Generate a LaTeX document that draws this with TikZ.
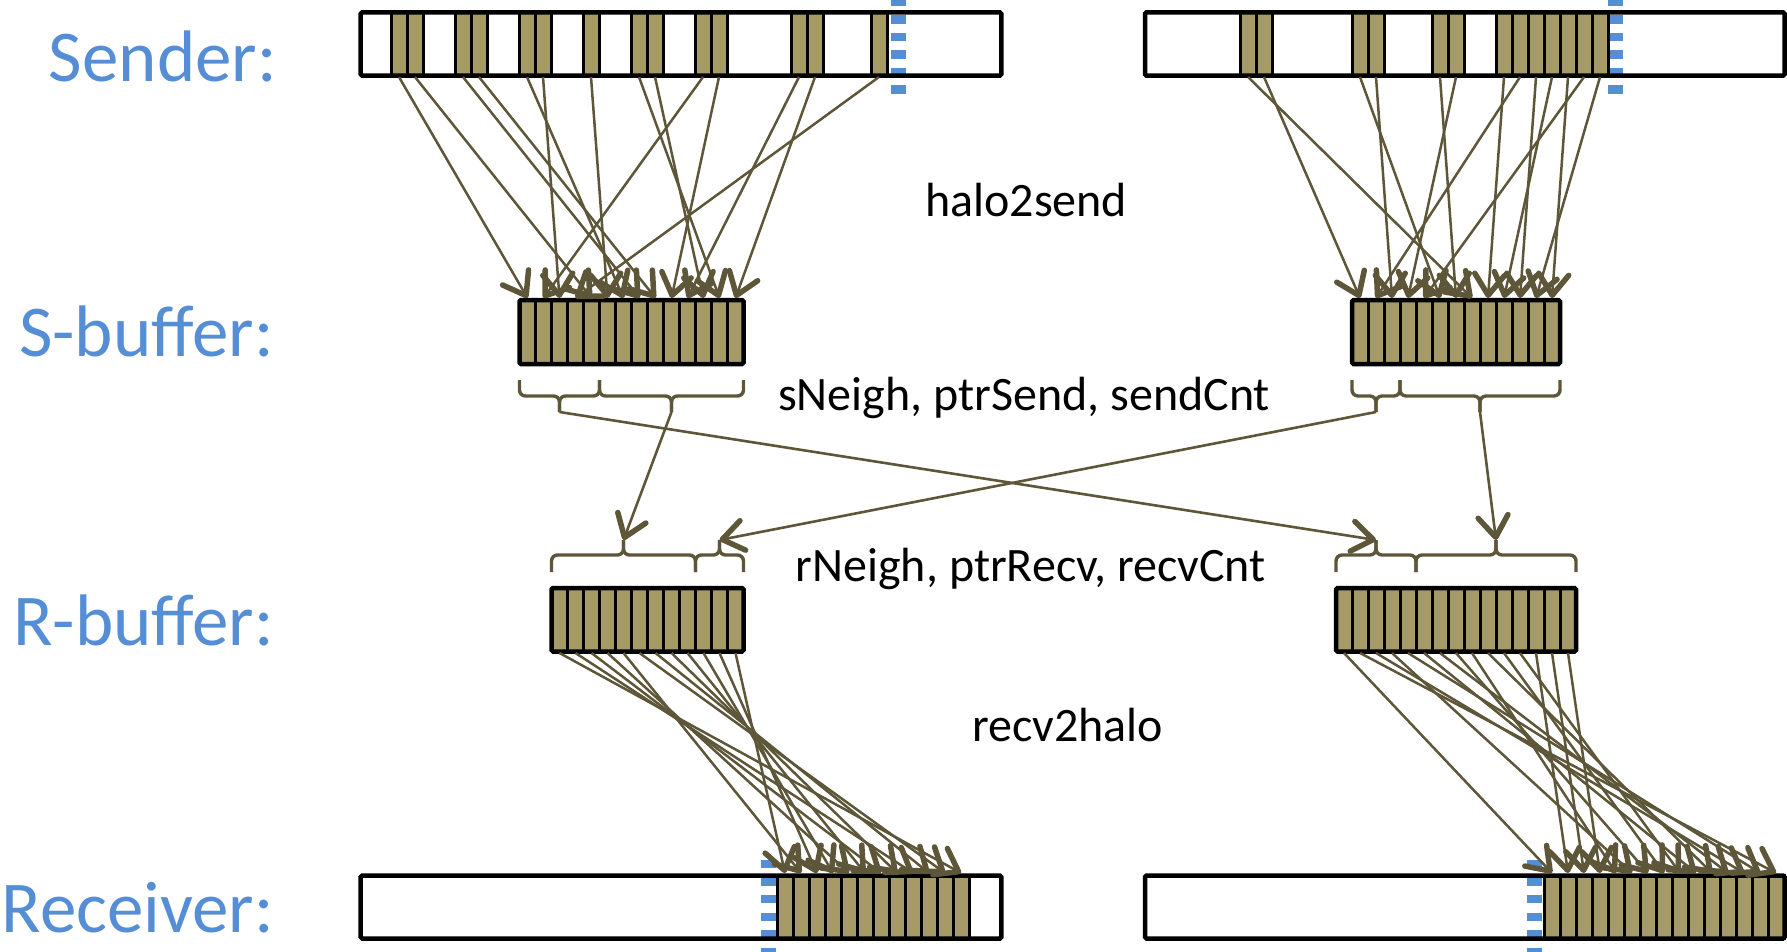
\documentclass[tikz,border=0pt]{standalone}
\usepackage{fontspec}
\setmainfont{Carlito}
\usetikzlibrary{arrows.meta}
\definecolor{slotfill}{RGB}{166,154,102}
\definecolor{arrowcol}{RGB}{94,86,56}
\definecolor{labelblue}{RGB}{85,142,213}
\tikzset{
  memfill/.style={fill=white},
  memframe/.style={draw=black, line width=4.5pt, rounded corners=1.5pt},
  bufbox/.style={draw=black, line width=4.5pt, fill=slotfill, rounded corners=1.5pt},
  slotbox/.style={draw=black, line width=3pt, fill=slotfill},
  slotline/.style={draw=black, line width=3pt},
  vtip/.tip={Straight Barb[length=21pt,width=30pt,line width=5.5pt,line cap=round,line join=round]},
  link/.style={draw=arrowcol, line width=2.5pt, -vtip},
  xlink/.style={draw=arrowcol, line width=2.6pt, -vtip},
  bracket/.style={draw=arrowcol, line width=3.4pt, rounded corners=6pt},
  bluedash/.style={draw=labelblue, line width=15pt, dash pattern=on 8.3pt off 9.2pt},
  rowlabel/.style={text=labelblue, font=\fontsize{73}{80}\selectfont, anchor=base east, inner sep=0pt},
  note/.style={text=black, font=\fontsize{48}{52}\selectfont, anchor=base west, inner sep=0pt},
}
\begin{document}
\begin{tikzpicture}[x=1pt,y=-1pt]
\useasboundingbox (0,0) rectangle (1787,952);

% ---------- row labels ----------
\node[rowlabel] (lblsender) at (277,82) {Sender:};
\node[rowlabel] (lblsbuf) at (274,356.5) {S-buffer:};
\node[rowlabel] (lblrbuf) at (274,645) {R-buffer:};
\node[rowlabel] (lblrecv) at (274,932) {Receiver:};

% ---------- notes ----------
\node[note] (nhalo) at (925,216.5) {halo2send};
\node[note] (nsend) at (778,410) {sNeigh, ptrSend, sendCnt};
\node[note] (nrecv) at (795.5,581) {rNeigh, ptrRecv, recvCnt};
\node[note] (nrecvh) at (972,741) {recv2halo};

% ---------- sender boxes ----------
\path[memfill] (360.7,12.3) rectangle (1001.3,75.7);
\path[memfill] (1145,12.3) rectangle (1784.5,75.7);
\draw[bluedash] (898,-2.2) -- (898,94);
\draw[bluedash] (1615.5,-2.2) -- (1615.5,94);
\foreach \k in {0,1,4,5,8,9,12,15,16,19,20,25,26,30} {
  \draw[slotbox] ({391+16*\k},12.3) rectangle ({407+16*\k},75.7);
  \coordinate (ls\k) at ({399+16*\k},77);
}
\foreach \k in {0,1,7,8,12,13,16,17,18,19,20,21,22} {
  \draw[slotbox] ({1240+16*\k},12.3) rectangle ({1256+16*\k},75.7);
  \coordinate (rs\k) at ({1248+16*\k},77);
}
\draw[memframe] (360.7,12.3) rectangle (1001.3,75.7);
\draw[memframe] (1145,12.3) rectangle (1784.5,75.7);

% ---------- receiver boxes ----------
\path[memfill] (360.7,875.5) rectangle (1001.3,938.5);
\path[memfill] (1145,875.5) rectangle (1784.5,938.5);
\draw[bluedash] (768,860) -- (768,958);
\draw[bluedash] (1534.5,860) -- (1534.5,958);
\draw[slotbox] (777,875.5) rectangle (969,938.5);
\foreach \m in {1,...,11} \draw[slotline] ({777+16*\m},875.5) -- ({777+16*\m},938.5);
\draw[slotbox] (1544,875.5) rectangle (1784,938.5);
\foreach \m in {1,...,14} \draw[slotline] ({1544+16*\m},875.5) -- ({1544+16*\m},938.5);
\draw[memframe] (360.7,875.5) rectangle (1001.3,938.5);
\draw[memframe] (1145,875.5) rectangle (1784.5,938.5);
\foreach \m in {0,...,11} \coordinate (vl\m) at ({785+16*\m},873);
\foreach \m in {0,...,14} \coordinate (vr\m) at ({1552+16*\m},873);

% ---------- S-buffers ----------
\draw[bufbox] (519.5,300) rectangle (743.5,364);
\foreach \j in {1,...,13} \draw[slotline] ({519.5+16*\j},300) -- ({519.5+16*\j},364);
\foreach \j in {0,...,13} \coordinate (sl\j) at ({527.5+16*\j},298);
\draw[bufbox] (1352,300) rectangle (1560,364);
\foreach \j in {1,...,12} \draw[slotline] ({1352+16*\j},300) -- ({1352+16*\j},364);
\foreach \j in {0,...,12} \coordinate (sr\j) at ({1360+16*\j},298);

% ---------- R-buffers ----------
\draw[bufbox] (551.5,588) rectangle (743.5,651.5);
\foreach \i in {1,...,11} \draw[slotline] ({551.5+16*\i},588) -- ({551.5+16*\i},651.5);
\foreach \i in {0,...,11} \coordinate (rl\i) at ({559.5+16*\i},653);
\draw[bufbox] (1336,588) rectangle (1576,651.5);
\foreach \i in {1,...,14} \draw[slotline] ({1336+16*\i},588) -- ({1336+16*\i},651.5);
\foreach \i in {0,...,14} \coordinate (rr\i) at ({1344+16*\i},653);

% ---------- braces ----------
\draw[bracket] (519.5,380) |- (559.5,396) -- (559.5,412);
\draw[bracket] (599.5,380) |- (559.5,396) -- (559.5,412);
\draw[bracket] (599.5,380) |- (671.5,396) -- (671.5,412);
\draw[bracket] (743.5,380) |- (671.5,396) -- (671.5,412);
\coordinate (slA) at (559.5,412);
\coordinate (slB) at (671.5,412);
\draw[bracket] (1352,380) |- (1376,396) -- (1376,412);
\draw[bracket] (1400,380) |- (1376,396) -- (1376,412);
\draw[bracket] (1400,380) |- (1480,396) -- (1480,412);
\draw[bracket] (1560,380) |- (1480,396) -- (1480,412);
\coordinate (srA) at (1376,412);
\coordinate (srB) at (1480,412);
\draw[bracket] (551.5,572) |- (623.5,555) -- (623.5,540);
\draw[bracket] (695.5,572) |- (623.5,555) -- (623.5,540);
\draw[bracket] (695.5,572) |- (719.5,555) -- (719.5,540);
\draw[bracket] (743.5,572) |- (719.5,555) -- (719.5,540);
\coordinate (rlA) at (623.5,540);
\coordinate (rlB) at (719.5,540);
\draw[bracket] (1336,572) |- (1376,555) -- (1376,540);
\draw[bracket] (1416,572) |- (1376,555) -- (1376,540);
\draw[bracket] (1416,572) |- (1496,555) -- (1496,540);
\draw[bracket] (1576,572) |- (1496,555) -- (1496,540);
\coordinate (rrA) at (1376,540);
\coordinate (rrB) at (1496,540);

\draw[xlink] (slA) -- (rrA);
\draw[xlink] (slB) -- (rlA);
\draw[xlink] (srA) -- (rlB);
\draw[xlink] (srB) -- (rrB);

% ---------- halo2send ----------
\foreach \k/\j in {0/0,1/4,4/7,5/8,8/6,9/2,12/5,15/12,16/11,19/1,20/9,25/10,26/13,30/3}
  \draw[link] (ls\k) -- (sl\j);
\foreach \k/\j in {0/7,1/0,7/5,8/2,12/6,13/3,16/8,17/1,18/10,19/9,20/12,21/4,22/11}
  \draw[link] (rs\k) -- (sr\j);

% ---------- recv2halo ----------
\foreach \i/\m in {0/11,1/8,2/6,3/4,4/1,5/10,6/9,7/7,8/5,9/3,10/2,11/0}
  \draw[link] (rl\i) -- (vl\m);
\foreach \i/\m in {0/0,1/14,2/12,3/5,4/13,5/9,6/11,7/6,8/4,9/10,10/7,11/8,12/1,13/2,14/3}
  \draw[link] (rr\i) -- (vr\m);
\end{tikzpicture}
\end{document}
